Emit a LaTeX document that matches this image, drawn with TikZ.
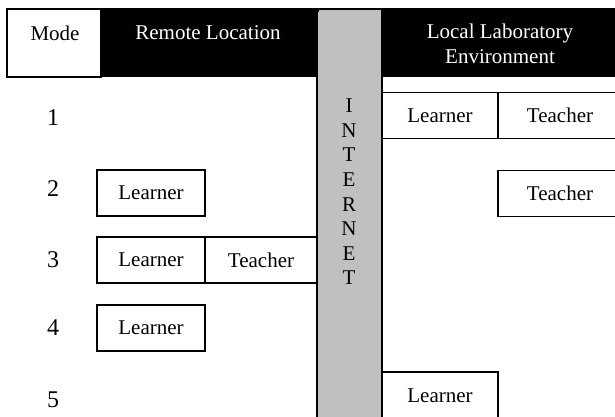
\documentclass[tikz,border=0pt]{standalone}
\usepackage{fontspec}
\setmainfont{Liberation Serif}
\definecolor{netgray}{HTML}{C0C0C0}
\begin{document}
\begin{tikzpicture}[x=1pt,y=-1pt,
  every node/.style={font=\fontsize{21}{24.6}\selectfont},
  cell/.style={draw=black,line width=1.5pt,fill=white,minimum height=46pt,inner sep=0pt,anchor=center},
  modenum/.style={font=\fontsize{24}{28}\selectfont},
  headtext/.style={text=white,align=center}]
\useasboundingbox (0,0) rectangle (615,416);
\clip (0,0) rectangle (615,416);

% header band
\fill[black] (100,8) rectangle (620,77);
\node[draw=black,line width=1.5pt,fill=white,minimum width=94pt,minimum height=68pt,inner sep=0pt] (mode) at (54,43) {};
\node (modetxt) at (55,33) {Mode};
\node[headtext] (remote) at (208,33) {Remote Location};
\node[headtext] (local) at (500,44) {Local Laboratory\\Environment};

% internet column
\node[draw=black,line width=1.5pt,fill=netgray,minimum width=65pt,minimum height=430pt,inner sep=0pt,anchor=north] (net) at (349.5,10) {};
\fill[netgray] (318.5,10) rectangle (380.5,77);
\node[align=center] (nettxt) at (349,192) {I\\N\\T\\E\\R\\N\\E\\T};

% mode numbers
\node[modenum] (n1) at (53,118) {1};
\node[modenum] (n2) at (53,189) {2};
\node[modenum] (n3) at (53,260) {3};
\node[modenum] (n4) at (53,328) {4};
\node[modenum] (n5) at (53,400) {5};

% mode 1
\node[cell,minimum width=116pt] (l1) at (440,115.5) {Learner};
\node[cell,minimum width=124pt] (t1) at (560,115.5) {Teacher};
% mode 2
\node[cell,minimum width=108pt] (l2) at (151,193) {Learner};
\node[cell,minimum width=124pt] (t2) at (560,193.5) {Teacher};
% mode 3
\node[cell,minimum width=108pt] (l3) at (151,260) {Learner};
\node[cell,minimum width=112pt] (t3) at (261,260) {Teacher};
% mode 4
\node[cell,minimum width=108pt] (l4) at (151,328) {Learner};
% mode 5
\node[cell,minimum width=116pt,minimum height=47pt] (l5) at (440,395.5) {Learner};
\end{tikzpicture}
\end{document}
